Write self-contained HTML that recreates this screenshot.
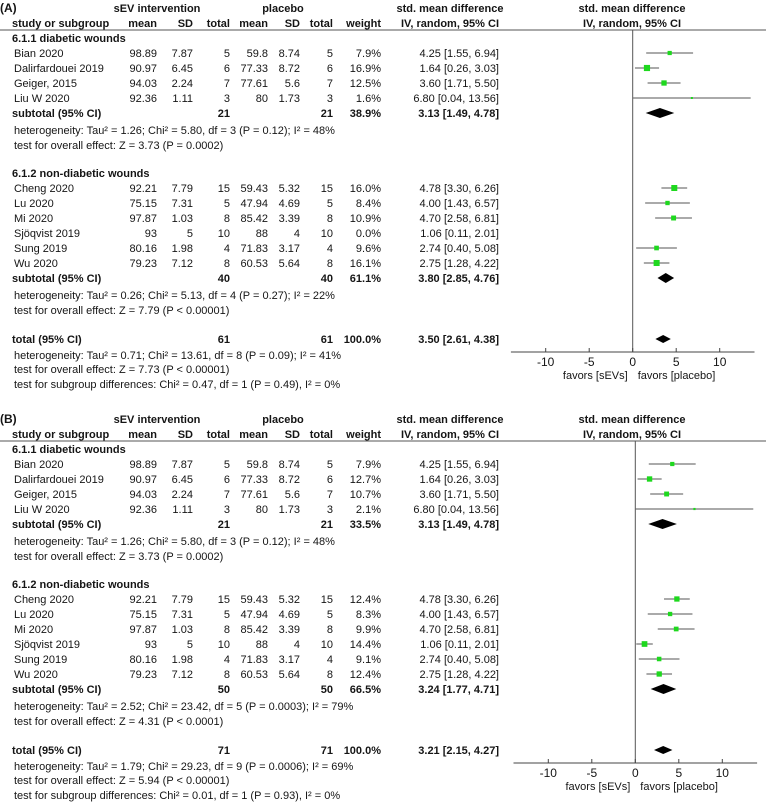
<!DOCTYPE html>
<html><head><meta charset="utf-8">
<style>
html,body{margin:0;padding:0;background:#fff;}
svg{display:block;font-family:"Liberation Sans",Arial,sans-serif;font-size:11px;fill:#151515;}
.b{font-weight:bold;}
.t{font-size:12px;}
</style></head>
<body>
<svg id="fp" width="774" height="809" viewBox="0 0 774 809" xmlns="http://www.w3.org/2000/svg"></svg>
<script>
// ---- data ----
const studies = ["Bian 2020","Dalirfardouei 2019","Geiger, 2015","Liu W 2020","Cheng 2020","Lu 2020","Mi 2020","Sjöqvist 2019","Sung 2019","Wu 2020"];
const groupOf = [1,1,1,1,2,2,2,2,2,2];
const evMean = ["98.89","90.97","94.03","92.36","92.21","75.15","97.87","93","80.16","79.23"];
const evSD = ["7.87","6.45","2.24","1.11","7.79","7.31","1.03","5","1.98","7.12"];
const evN = [5,6,7,3,15,5,8,10,4,8];
const plMean = ["59.8","77.33","77.61","80","59.43","47.94","85.42","88","71.83","60.53"];
const plSD = ["8.74","8.72","5.6","1.73","5.32","4.69","3.39","4","3.17","5.64"];
const plN = [5,6,7,3,15,5,8,10,4,8];
const smd = [4.25,1.64,3.60,6.80,4.78,4.00,4.70,1.06,2.74,2.75];
const lo = [1.55,0.26,1.71,0.04,3.30,1.43,2.58,0.11,0.40,1.28];
const hi = [6.94,3.03,5.50,13.56,6.26,6.57,6.81,2.01,5.08,4.22];
const weightsA = [7.9,16.9,12.5,1.6,16.0,8.4,10.9,0.0,9.6,16.1];
const weightsB = [7.9,12.7,10.7,2.1,12.4,8.3,9.9,14.4,9.1,12.4];
// subtotal / total: [estimate, lo, hi, nEV, nPl, weight]
const sub1A = [3.13,1.49,4.78,21,21,38.9];
const sub2A = [3.80,2.85,4.76,40,40,61.1];
const totA = [3.50,2.61,4.38,61,61,100.0];
const sub1B = [3.13,1.49,4.78,21,21,33.5];
const sub2B = [3.24,1.77,4.71,50,50,66.5];
const totB = [3.21,2.15,4.27,71,71,100.0];
const hetA = ["heterogeneity: Tau² = 1.26; Chi² = 5.80, df = 3 (P = 0.12); I² = 48%","test for overall effect: Z = 3.73 (P = 0.0002)",
 "heterogeneity: Tau² = 0.26; Chi² = 5.13, df = 4 (P = 0.27); I² = 22%","test for overall effect: Z = 7.79 (P < 0.00001)",
 "heterogeneity: Tau² = 0.71; Chi² = 13.61, df = 8 (P = 0.09); I² = 41%","test for overall effect: Z = 7.73 (P < 0.00001)",
 "test for subgroup differences: Chi² = 0.47, df = 1 (P = 0.49), I² = 0%"];
const hetB = ["heterogeneity: Tau² = 1.26; Chi² = 5.80, df = 3 (P = 0.12); I² = 48%","test for overall effect: Z = 3.73 (P = 0.0002)",
 "heterogeneity: Tau² = 2.52; Chi² = 23.42, df = 5 (P = 0.0003); I² = 79%","test for overall effect: Z = 4.31 (P < 0.0001)",
 "heterogeneity: Tau² = 1.79; Chi² = 29.23, df = 9 (P = 0.0006); I² = 69%","test for overall effect: Z = 5.94 (P < 0.00001)",
 "test for subgroup differences: Chi² = 0.01, df = 1 (P = 0.93), I² = 0%"];
const ticks = [-10,-5,0,5,10];

const svg = document.getElementById('fp');
const NS = "http://www.w3.org/2000/svg";
function mk(tag, attrs, name){
  const e = document.createElementNS(NS, tag);
  for (const k in attrs) e.setAttribute(k, attrs[k]);
  
  
  svg.appendChild(e); return e;
}
function txt(x,y,s,name,anchor,bold,cls){
  const e = mk('text',{x:x,y:y+4,'text-anchor':anchor||'start'},name);
  const c = (bold?'b ':'') + (cls||'');
  if(c.trim()) e.setAttribute('class',c.trim());
  e.textContent = s; return e;
}
const f2 = v => v.toFixed(2);
const ci = (a,b,c) => f2(a)+" ["+f2(b)+", "+f2(c)+"]";

function panel(label, oy, zeroX, weights, sub1, sub2, tot, het, lineEnd){
  const X = v => zeroX + v*8.7;
  txt(0, oy+8, label, 'panel-label', 'start', true, 't');
  txt(157, oy+8, "sEV intervention", 'header-sev', 'middle', true);
  txt(283, oy+8, "placebo", 'header-placebo', 'middle', true);
  txt(450, oy+8, "std. mean difference", 'header-smd', 'middle', true);
  txt(632, oy+8, "std. mean difference", 'header-smd-plot', 'middle', true);
  txt(12, oy+23, "study or subgroup", 'header-study', 'start', true);
  txt(157, oy+23, "mean", 'header-mean-ev', 'end', true);
  txt(193, oy+23, "SD", 'header-sd-ev', 'end', true);
  txt(230, oy+23, "total", 'header-total-ev', 'end', true);
  txt(268, oy+23, "mean", 'header-mean-pl', 'end', true);
  txt(300, oy+23, "SD", 'header-sd-pl', 'end', true);
  txt(333, oy+23, "total", 'header-total-pl', 'end', true);
  txt(381, oy+23, "weight", 'header-weight', 'end', true);
  txt(450, oy+23, "IV, random, 95% CI", 'header-ci', 'middle', true);
  txt(632, oy+23, "IV, random, 95% CI", 'header-ci-plot', 'middle', true);
  mk('line',{x1:0,y1:oy+30,x2:lineEnd,y2:oy+30,stroke:'#555','stroke-width':1},'header-rule');
  const axisY = oy+352;
  mk('line',{x1:zeroX,y1:oy+30,x2:zeroX,y2:axisY,stroke:'#555','stroke-width':1},'zero-line');
  const rowY = [53,68,83,98,188,203,218,233,248,263];
  txt(12, oy+38, "6.1.1 diabetic wounds", 'subgroup-1-title', 'start', true);
  txt(12, oy+173, "6.1.2 non-diabetic wounds", 'subgroup-2-title', 'start', true);
  for(let i=0;i<studies.length;i++){
    const y = oy+rowY[i];
    txt(14,y,studies[i],'study-name','start');
    txt(157,y,evMean[i],'ev-mean','end');
    txt(193,y,evSD[i],'ev-sd','end');
    txt(230,y,evN[i],'ev-total','end');
    txt(268,y,plMean[i],'pl-mean','end');
    txt(300,y,plSD[i],'pl-sd','end');
    txt(333,y,plN[i],'pl-total','end');
    txt(381,y,weights[i].toFixed(1)+"%",'weight','end');
    txt(499,y,ci(smd[i],lo[i],hi[i]),'ci-text','end');
    if(weights[i]>0){
      mk('line',{x1:X(lo[i]),y1:y,x2:X(hi[i]),y2:y,stroke:'#555','stroke-width':1},'ci-line');
      const s = Math.max(2, 1.5*Math.sqrt(weights[i]));
      mk('rect',{x:X(smd[i])-s/2,y:y-s/2,width:s,height:s,fill:'#1ed81e'},'study-marker');
    }
  }
  const sums = [[sub1,113,"subtotal (95% CI)",'subtotal-1',10],[sub2,278,"subtotal (95% CI)",'subtotal-2',10],[tot,339,"total (95% CI)",'total',8]];
  for(const [d,ry,lab,nm,h] of sums){
    const y = oy+ry;
    txt(12,y,lab,nm+'-label','start',true);
    txt(230,y,d[3],nm+'-ev-total','end',true);
    txt(333,y,d[4],nm+'-pl-total','end',true);
    txt(381,y,d[5].toFixed(1)+"%",nm+'-weight','end',true);
    txt(499,y,ci(d[0],d[1],d[2]),nm+'-ci','end',true);
    mk('polygon',{points:`${X(d[1])},${y} ${X(d[0])},${y-h/2} ${X(d[2])},${y} ${X(d[0])},${y+h/2}`,fill:'#000'},nm+'-diamond');
  }
  const hy = [130,145,295,310,355,369,384];
  for(let i=0;i<het.length;i++) txt(14,oy+hy[i],het[i],'stats-note','start');
  mk('line',{x1:X(-14),y1:axisY,x2:X(14),y2:axisY,stroke:'#444','stroke-width':1},'x-axis');
  for(const t of ticks){
    mk('line',{x1:X(t),y1:axisY-4,x2:X(t),y2:axisY,stroke:'#444','stroke-width':1},'x-tick');
    txt(X(t),axisY+10,String(t),'x-tick-label','middle',false,'t');
  }
  txt(zeroX-5,axisY+23,"favors [sEVs]",'favors-sevs-label','end');
  txt(zeroX+5,axisY+23,"favors [placebo]",'favors-placebo-label','start');
}
panel("(A)", 0, 632.7, weightsA, sub1A, sub2A, totA, hetA, 766);
panel("(B)", 411, 635.3, weightsB, sub1B, sub2B, totB, hetB, 766);
</script>
</body></html>
